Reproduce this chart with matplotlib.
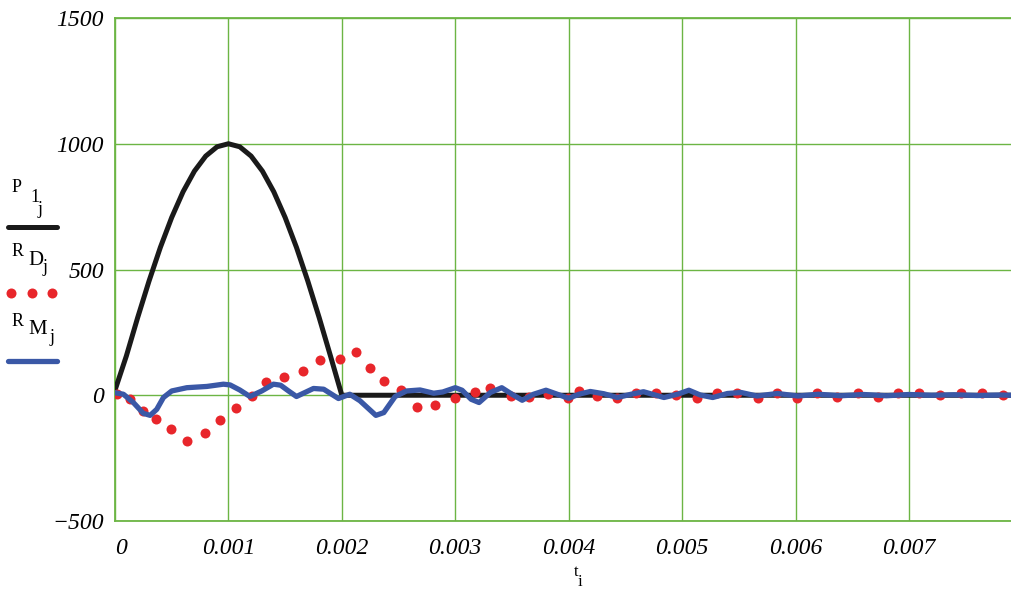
import matplotlib
matplotlib.use("Agg")
import matplotlib.pyplot as plt
from matplotlib import font_manager as fm

# ---- data ----
# P1 (black): half-sine pulse, then zero
p_t = [0.0, 0.0001, 0.0002, 0.0003, 0.0004, 0.0005, 0.0006, 0.0007, 0.0008, 0.0009,
       0.0010, 0.0011, 0.0012, 0.0013, 0.0014, 0.0015, 0.0016, 0.0017, 0.0018, 0.0019,
       0.0020, 0.0030, 0.0040, 0.0050, 0.0060, 0.0070, 0.0079]
p_v = [20, 156, 309, 454, 588, 707, 809, 891, 951, 988,
       1000, 988, 951, 891, 809, 707, 588, 454, 309, 156,
       0, 0, 0, 0, 0, 0, 0]

# R_D (red dots)
rd_t = [0.000015, 0.000133, 0.00025, 0.000363, 0.000492, 0.000639, 0.000796, 0.000929,
        0.001064, 0.00121, 0.001327, 0.00149, 0.00166, 0.001808, 0.00198, 0.002127,
        0.002245, 0.002375, 0.00252, 0.00266, 0.00282, 0.003, 0.00317, 0.00331,
        0.00349, 0.00365, 0.00382, 0.00399, 0.00409, 0.00425, 0.00443, 0.00459,
        0.004766, 0.00495, 0.005128, 0.005305, 0.00548, 0.005668, 0.00584, 0.00601,
        0.006187, 0.006363, 0.006548, 0.00673, 0.006907, 0.00709, 0.007274, 0.007456,
        0.007641, 0.007833]
rd_v = [3, -16, -62, -93, -133, -182, -151, -98,
        -52, -3, 53, 74, 97, 139, 146, 170,
        110, 57, 20, -45, -40, -9, 11, 30,
        -3, -7, 4, -12, 17, -3, -9, 10,
        10, 0, -10, 10, 10, -12, 10, -12,
        8, -6, 8, -6, 8, 10, 0, 8,
        8, 0]

# R_M (blue line)
rm_t = [0.0, 0.000074, 0.000162, 0.00025, 0.00031, 0.000368, 0.000427, 0.0005,
        0.000633, 0.00081, 0.000956, 0.001015, 0.0011, 0.00119, 0.001294, 0.001397,
        0.00146, 0.00153, 0.0016, 0.00175, 0.00184, 0.00197, 0.00207, 0.00216,
        0.0023, 0.00237, 0.00247, 0.00257, 0.00269, 0.00281, 0.00289, 0.003,
        0.00306, 0.00314, 0.00321, 0.00331, 0.00341, 0.0035, 0.00359, 0.00369,
        0.0038, 0.0039, 0.004, 0.00409, 0.00419, 0.00431, 0.00443, 0.00455,
        0.00466, 0.00484, 0.00496, 0.00506, 0.00516, 0.00527, 0.0054, 0.00552,
        0.00566, 0.00584, 0.00602, 0.0062, 0.0064, 0.0066, 0.0068, 0.0070,
        0.0072, 0.0074, 0.0076, 0.0078, 0.0079]
rm_v = [10, 4, -29, -72, -80, -56, -9, 17,
        30, 35, 44, 41, 21, -5, 17, 44,
        40, 17, -5, 27, 24, -13, 4, -22,
        -80, -69, -5, 17, 21, 8, 13, 30,
        20, -16, -29, 11, 30, 4, -20, 4,
        20, 4, -12, 4, 15, 6, -9, 4,
        14, -9, 4, 20, 1, -9, 7, 11,
        -3, 7, -3, 4, -2, 3, -2, 3,
        0, 2, -1, 1, 0]

x_ticks = [0, 0.001, 0.002, 0.003, 0.004, 0.005, 0.006, 0.007]
x_tick_labels = ["0", "0.001", "0.002", "0.003", "0.004", "0.005", "0.006", "0.007"]
y_ticks = [-500, 0, 500, 1000, 1500]
y_tick_labels = ["\u2212500", "0", "500", "1000", "1500"]

GREEN = "#6cb544"
BLACK = "#1a1a1a"
RED = "#e8262b"
BLUE = "#3a58a6"
SERIF = ["Liberation Serif", "DejaVu Serif"]


def find_italic_serif():
    for f in fm.fontManager.ttflist:
        if f.name == "Liberation Serif" and f.style == "italic" and str(f.weight) in ("400", "normal", "regular"):
            return f.fname
    for f in fm.fontManager.ttflist:
        if f.name == "Liberation Serif" and f.style == "italic":
            return f.fname
    return None


ital_path = find_italic_serif()


def ital(size):
    if ital_path:
        return fm.FontProperties(fname=ital_path, size=size)
    return fm.FontProperties(family=SERIF, style="italic", size=size)


fig = plt.figure(figsize=(10.11, 5.92), dpi=100)
ax = fig.add_axes([115 / 1011, 1 - 521 / 592, (1011 - 115) / 1011, (521 - 18) / 592])

ax.plot(p_t, p_v, color=BLACK, lw=3.6, solid_joinstyle="miter", zorder=3)
ax.plot(rd_t, rd_v, linestyle="none", marker="o", ms=7.2, color=RED, mec="none", zorder=4)
ax.plot(rm_t, rm_v, color=BLUE, lw=3.8, solid_joinstyle="round", solid_capstyle="round", zorder=5)

ax.set_xlim(0, 0.0079)
ax.set_ylim(-500, 1500)
ax.set_xticks(x_ticks)
ax.set_yticks(y_ticks)
ax.set_xticklabels(x_tick_labels)
ax.set_yticklabels(y_tick_labels)
for lab in ax.get_xticklabels() + ax.get_yticklabels():
    lab.set_fontproperties(ital(17))
ax.get_xticklabels()[0].set_horizontalalignment("left")
ax.tick_params(axis="x", length=0, pad=12)
ax.tick_params(axis="y", length=0, pad=8)

ax.grid(True, color=GREEN, lw=1.0)
ax.set_axisbelow(True)
for side in ["left", "top", "bottom"]:
    ax.spines[side].set_color(GREEN)
    ax.spines[side].set_linewidth(1.3)
ax.spines["right"].set_visible(False)

# x label t_i
fig.text(576 / 1011, 1 - 572 / 592, "t", family=SERIF, fontsize=12, ha="center", va="center")
fig.text(580 / 1011, 1 - 582 / 592, "i", family=SERIF, fontsize=12, ha="center", va="center")


# legend at left
def t(x, y, s, size):
    fig.text(x / 1011, 1 - y / 592, s, family=SERIF, fontsize=size, ha="left", va="center")


t(12, 187, "P", 13)
t(30, 197, "1", 13)
t(38, 209, "j", 13)
fig.add_artist(plt.Line2D([8 / 1011, 57 / 1011], [1 - 227 / 592] * 2, color=BLACK, lw=3.6,
                          solid_capstyle="round"))

t(12, 251, "R", 13)
t(28, 260, "D", 15)
t(43, 268, "j", 13)
fig.add_artist(plt.Line2D([10.7 / 1011, 31.7 / 1011, 52.3 / 1011], [1 - 293 / 592] * 3,
                          linestyle="none", marker="o", ms=7.2, color=RED, mec="none"))

t(12, 321, "R", 13)
t(28, 330, "M", 15)
t(50, 338, "j", 13)
fig.add_artist(plt.Line2D([8 / 1011, 57 / 1011], [1 - 361 / 592] * 2, color=BLUE, lw=3.8,
                          solid_capstyle="round"))

fig.savefig("out.png", dpi=100)
